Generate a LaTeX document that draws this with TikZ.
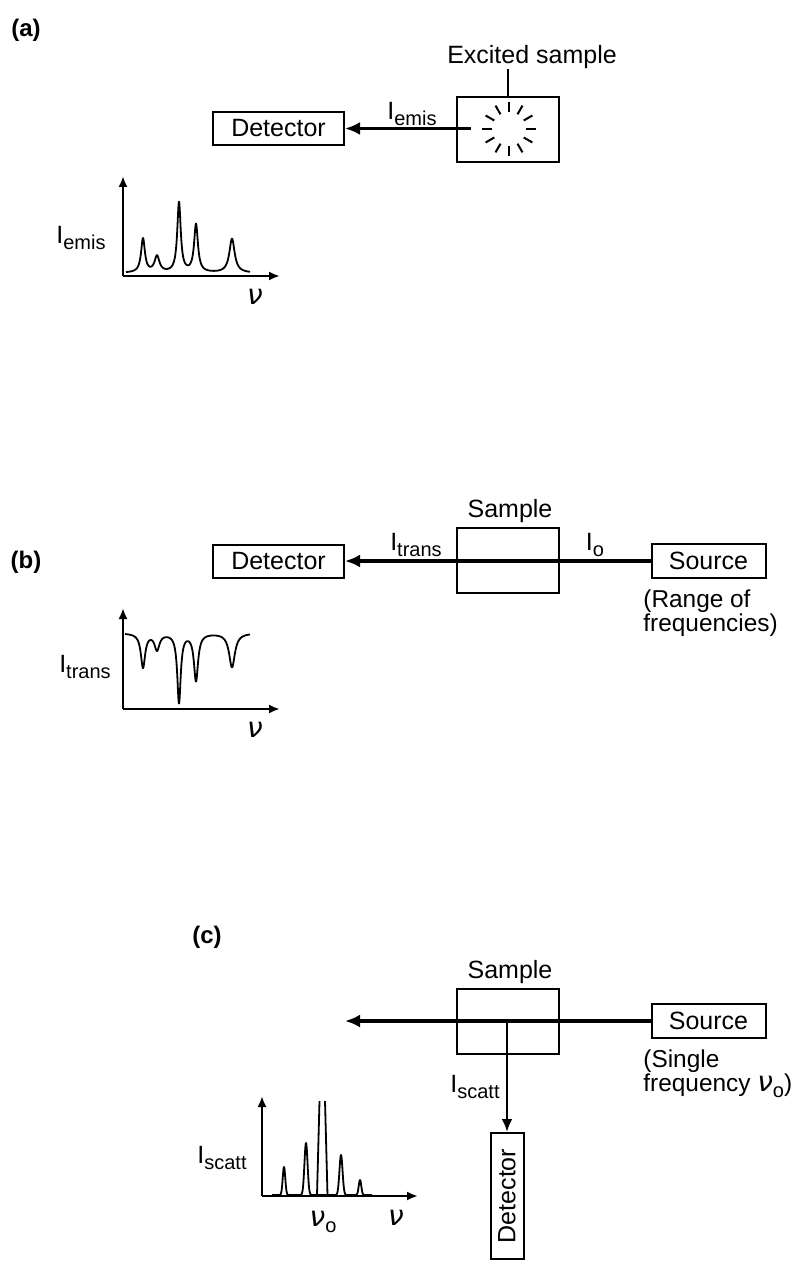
\documentclass[tikz,border=0pt]{standalone}
\usepackage{fontspec}
\setmainfont{Liberation Sans}
\newfontfamily\nufont{DejaVu Sans}
\usetikzlibrary{arrows.meta}
\newcommand{\Isub}[1]{I\raisebox{-0.5ex}{\fontsize{10}{10}\selectfont #1}}
\newcommand{\nusym}{{\fontsize{14}{14}\nufont\itshape ν}}
\newcommand{\osub}{\raisebox{-0.5ex}{\fontsize{10}{10}\selectfont o}}
\tikzset{
  txt/.style={font=\fontsize{12.5}{13}\selectfont, inner sep=0pt},
  panel/.style={font=\fontsize{12}{13}\selectfont\bfseries, inner sep=0pt},
  box/.style={draw, line width=1pt, inner sep=0pt, font=\fontsize{12.5}{13}\selectfont},
  detbox/.style={box, minimum width=65.5pt, minimum height=16.5pt},
  sampbox/.style={box, minimum width=51pt, minimum height=32.5pt},
  srcbox/.style={box, minimum width=57pt, minimum height=17pt},
  beam/.style={line width=1.8pt, -{Latex[length=7.5pt,width=6.5pt]}},
  thinbeam/.style={line width=1.2pt, -{Latex[length=6.5pt,width=5.5pt]}},
  axis/.style={line width=1.2pt, -{Latex[length=5.5pt,width=4.5pt]}},
  curve/.style={line width=0.9pt, line join=round},
  note/.style={txt, anchor=north west, align=left, font=\fontsize{12.2}{12}\selectfont},
}
\begin{document}
\begin{tikzpicture}[x=0.5pt,y=-0.5pt]
\path[use as bounding box] (0,0) rectangle (796,1261);

% ---------------- (a) ----------------
\node[panel] (la) at (26,30) {(a)};
\node[detbox] (detA) at (278.5,128.5) {Detector};
\node[sampbox] (sampA) at (508,129.5) {};
\node[txt] (exc) at (532,57) {Excited sample};
\draw[line width=1pt] (sampA.north) -- (sampA.north |- exc.south);
\coordinate (burst) at (509,129);
\foreach \a in {0,30,...,330}
  \draw[line width=1pt] (burst) ++(\a:17) -- ++(\a:10);
\coordinate (emisStart) at (471,128.5);
\draw[beam] (emisStart) -- (detA.east);
\node[txt] (Iemis) at (412,114) {\Isub{emis}};

% graph (a)
\coordinate (oA) at (123,276);
\coordinate (yA) at (123,176);
\coordinate (xA) at (280,276);
\draw[axis] (oA) -- (yA);
\draw[axis] (oA) -- (xA);
\draw[curve] plot[domain=126:250, samples=500, smooth] (\x, {273 - 34/(1+((\x-143)/2.3)^2) - 16/(1+((\x-157)/3)^2) - 70/(1+((\x-179)/2.1)^2) - 48/(1+((\x-196)/2.3)^2) - 34/(1+((\x-232)/3.2)^2)});
\node[txt] (IemisG) at (81,238) {\Isub{emis}};
\node[txt] (nuA) at (255,297) {\nusym};

% ---------------- (b) ----------------
\node[panel] (lb) at (26,562) {(b)};
\node[detbox] (detB) at (278.5,561) {Detector};
\node[sampbox] (sampB) at (508,560.5) {};
\node[txt] (sampBl) at (510,511) {Sample};
\node[srcbox] (srcB) at (708.5,561) {Source};
\draw[beam] (srcB.west) -- (detB.east);
\node[txt] (Itrans) at (416,545) {\Isub{trans}};
\node[txt] (Io) at (595,545) {\Isub{o}};
\node[note] (rangeB) at (643,589) {(Range of\\frequencies)};

% graph (b)
\coordinate (oB) at (123,709);
\coordinate (yB) at (123,608);
\coordinate (xB) at (280,709);
\draw[axis] (oB) -- (yB);
\draw[axis] (oB) -- (xB);
\draw[curve] plot[domain=125:250, samples=500, smooth] (\x, {633 + 34/(1+((\x-143)/2.6)^2) + 16/(1+((\x-157)/3)^2) + 69/(1+((\x-179)/2.1)^2) + 47/(1+((\x-196)/2.5)^2) + 34/(1+((\x-232)/3.5)^2)});
\node[txt] (ItransG) at (85,667) {\Isub{trans}};
\node[txt] (nuB) at (255,730) {\nusym};

% ---------------- (c) ----------------
\node[panel] (lc) at (207,937) {(c)};
\node[sampbox] (sampC) at (508,1021) {};
\node[txt] (sampCl) at (510,972) {Sample};
\node[srcbox] (srcC) at (708.5,1021) {Source};
\coordinate (outC) at (345,1021);
\draw[beam] (srcC.west) -- (outC);
\node[note] (singC) at (643,1049) {(Single\\frequency \nusym\osub)};
\node[box, minimum width=16.5pt, minimum height=63pt] (detC) at (507,1196) {};
\node[txt, rotate=90] (detCl) at (detC.center) {Detector};
\coordinate (scatC) at (507,1021);
\draw[thinbeam] (scatC) -- (detC.north);
\node[txt] (Iscatt) at (475,1087) {\Isub{scatt}};

% graph (c)
\coordinate (oC) at (262,1196);
\coordinate (yC) at (262,1096);
\coordinate (xC) at (418,1196);
\draw[axis] (oC) -- (yC);
\draw[axis] (oC) -- (xC);
\draw[curve] plot[domain=272:372, samples=500, smooth] (\x, {1195 - 28*exp(-((\x-284)/1.8)^2) - 52*exp(-((\x-306)/2.2)^2) - 40*exp(-((\x-341)/2.2)^2) - 15*exp(-((\x-360)/1.8)^2)});
\draw[curve] (317,1195) -- (319.5,1101);
\draw[curve] (325,1101) -- (327.5,1195);
\node[txt] (IscattG) at (222,1158) {\Isub{scatt}};
\node[txt] (nuo) at (323,1222) {\nusym\osub};
\node[txt] (nuC) at (396,1218) {\nusym};
\end{tikzpicture}
\end{document}
